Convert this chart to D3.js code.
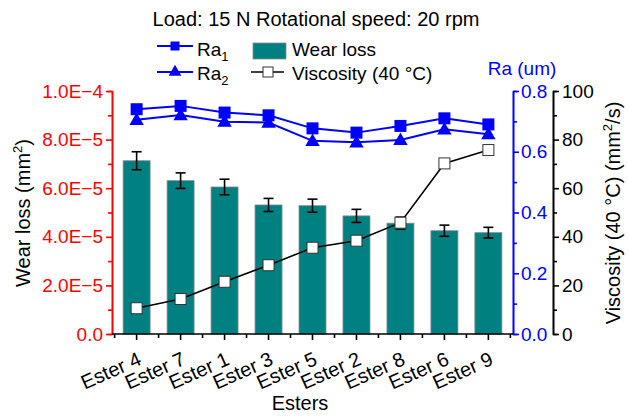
<!DOCTYPE html>
<html>
<head>
<meta charset="utf-8">
<script src="https://cdn.jsdelivr.net/npm/d3@7"></script>
<style>
  body { margin: 0; background: #fff; }
  svg { font-family: "Liberation Sans", Arial, sans-serif; }
</style>
</head>
<body>
<script>
// data
var esters = ["Ester 4", "Ester 7", "Ester 1", "Ester 3", "Ester 5", "Ester 2", "Ester 8", "Ester 6", "Ester 9"];
var wearLoss = [7.13e-5, 6.31e-5, 6.05e-5, 5.31e-5, 5.28e-5, 4.86e-5, 4.56e-5, 4.25e-5, 4.17e-5];
var wearErr = [0.37e-5, 0.32e-5, 0.32e-5, 0.27e-5, 0.27e-5, 0.27e-5, 0.25e-5, 0.23e-5, 0.22e-5];
var viscosity = [10.6, 14.4, 21.5, 28.3, 35.5, 38.4, 45.8, 70.2, 75.7];
var ra1 = [0.740, 0.751, 0.729, 0.720, 0.677, 0.663, 0.685, 0.710, 0.690];
var ra2 = [0.705, 0.721, 0.699, 0.696, 0.636, 0.631, 0.639, 0.674, 0.658];
var wearTicks = [0, 2e-5, 4e-5, 6e-5, 8e-5, 1e-4];
var wearTickLabels = ["0.0", "2.0E\u22125", "4.0E\u22125", "6.0E\u22125", "8.0E\u22125", "1.0E\u22124"];
var raTicks = [0, 0.2, 0.4, 0.6, 0.8];
var viscTicks = [0, 20, 40, 60, 80, 100];

var W = 628, H = 417;
var plot = { left: 112, right: 513, top: 91, bottom: 334 };
var viscAxisX = 553;
var fs = 19;

var svg = d3.select("body").append("svg")
    .attr("width", W)
    .attr("height", H);

var x = d3.scalePoint().domain(esters).range([plot.left, plot.right]).padding(0.56);
var yWear = d3.scaleLinear().domain([0, 1e-4]).range([plot.bottom, plot.top]);
var yRa = d3.scaleLinear().domain([0, 0.8]).range([plot.bottom, plot.top]);
var yVisc = d3.scaleLinear().domain([0, 100]).range([plot.bottom, plot.top]);

// bars
svg.append("g").selectAll("rect")
    .data(wearLoss)
    .enter().append("rect")
    .attr("x", function(d, i) { return x(esters[i]) - 13.5; })
    .attr("y", function(d) { return yWear(d); })
    .attr("width", 27)
    .attr("height", function(d) { return yWear(0) - yWear(d); })
    .style("fill", "#008080")
    .style("stroke", "#8a8a8a")
    .style("stroke-width", 0.8);

// error bars
var err = svg.append("g").selectAll("g")
    .data(wearLoss)
    .enter().append("g")
    .style("stroke", "#000")
    .style("stroke-width", 1.6);
err.append("line")
    .attr("x1", function(d, i) { return x(esters[i]); })
    .attr("x2", function(d, i) { return x(esters[i]); })
    .attr("y1", function(d, i) { return yWear(d - wearErr[i]); })
    .attr("y2", function(d, i) { return yWear(d + wearErr[i]); });
[-1, 1].forEach(function(s) {
    err.append("line")
        .attr("x1", function(d, i) { return x(esters[i]) - 5; })
        .attr("x2", function(d, i) { return x(esters[i]) + 5; })
        .attr("y1", function(d, i) { return yWear(d + s * wearErr[i]); })
        .attr("y2", function(d, i) { return yWear(d + s * wearErr[i]); });
});

// viscosity line
var viscLine = d3.line()
    .x(function(d, i) { return x(esters[i]); })
    .y(function(d) { return yVisc(d); });
svg.append("path")
    .attr("d", viscLine(viscosity))
    .style("fill", "none")
    .style("stroke", "#000")
    .style("stroke-width", 1.6);
svg.append("g").selectAll("rect")
    .data(viscosity)
    .enter().append("rect")
    .attr("x", function(d, i) { return x(esters[i]) - 5.5; })
    .attr("y", function(d) { return yVisc(d) - 5.5; })
    .attr("width", 11)
    .attr("height", 11)
    .style("fill", "#fff")
    .style("stroke", "#333")
    .style("stroke-width", 1);

// Ra lines
var raLine = d3.line()
    .x(function(d, i) { return x(esters[i]); })
    .y(function(d) { return yRa(d); });
[ra1, ra2].forEach(function(series) {
    svg.append("path")
        .attr("d", raLine(series))
        .style("fill", "none")
        .style("stroke", "#0000ff")
        .style("stroke-width", 2);
});
svg.append("g").selectAll("rect")
    .data(ra1)
    .enter().append("rect")
    .attr("x", function(d, i) { return x(esters[i]) - 6; })
    .attr("y", function(d) { return yRa(d) - 6; })
    .attr("width", 12)
    .attr("height", 12)
    .style("fill", "#0000ff");
var tri = d3.symbol().type(d3.symbolTriangle).size(90);
svg.append("g").selectAll("path")
    .data(ra2)
    .enter().append("path")
    .attr("d", tri)
    .attr("transform", function(d, i) { return "translate(" + x(esters[i]) + "," + (yRa(d) + 1) + ")"; })
    .style("fill", "#0000ff");

// axes
function styleAxis(g, color) {
    g.selectAll(".domain").style("stroke", color).style("stroke-width", 1.6);
    g.selectAll(".tick line").style("stroke", color).style("stroke-width", 1.6);
    g.selectAll(".tick text").style("fill", color).style("font-size", fs + "px")
        .style("font-family", "Liberation Sans, Arial, sans-serif");
}

var minorWear = d3.range(1e-5, 1e-4, 2e-5);
svg.append("g")
    .attr("transform", "translate(" + plot.left + ",0)")
    .call(d3.axisLeft(yWear).tickValues(minorWear).tickSize(4).tickFormat(""))
    .call(styleAxis, "#ff0000");
svg.append("g")
    .attr("transform", "translate(" + plot.left + ",0)")
    .call(d3.axisLeft(yWear).tickValues(wearTicks).tickSize(6).tickSizeOuter(0).tickPadding(3)
        .tickFormat(function(d, i) { return wearTickLabels[i]; }))
    .call(styleAxis, "#ff0000");

svg.append("g")
    .attr("transform", "translate(" + plot.right + ",0)")
    .call(d3.axisRight(yRa).tickValues([0.1, 0.3, 0.5, 0.7]).tickSize(4).tickFormat(""))
    .call(styleAxis, "#0000ff");
svg.append("g")
    .attr("transform", "translate(" + plot.right + ",0)")
    .call(d3.axisRight(yRa).tickValues(raTicks).tickSize(6).tickSizeOuter(0).tickPadding(2)
        .tickFormat(d3.format(".1f")))
    .call(styleAxis, "#0000ff");

svg.append("g")
    .attr("transform", "translate(" + viscAxisX + ",0)")
    .call(d3.axisRight(yVisc).tickValues([10, 30, 50, 70, 90]).tickSize(4).tickFormat(""))
    .call(styleAxis, "#000");
svg.append("g")
    .attr("transform", "translate(" + viscAxisX + ",0)")
    .call(d3.axisRight(yVisc).tickValues(viscTicks).tickSize(6).tickSizeOuter(0).tickPadding(3))
    .call(styleAxis, "#000");

// x axis: major ticks on categories, minor between them
var step = x.step();
var minorX = d3.range(esters.length + 1).map(function(i) { return x(esters[0]) - step / 2 + i * step; });
var xg = svg.append("g").attr("transform", "translate(0," + plot.bottom + ")");
xg.append("line")
    .attr("x1", plot.left).attr("x2", plot.right)
    .style("stroke", "#000").style("stroke-width", 1.6);
xg.selectAll(".minor")
    .data(minorX)
    .enter().append("line")
    .attr("x1", function(d) { return d; }).attr("x2", function(d) { return d; })
    .attr("y1", 0).attr("y2", 4)
    .style("stroke", "#000").style("stroke-width", 1.6);
xg.selectAll(".major")
    .data(esters)
    .enter().append("line")
    .attr("x1", function(d) { return x(d); }).attr("x2", function(d) { return x(d); })
    .attr("y1", 0).attr("y2", 6)
    .style("stroke", "#000").style("stroke-width", 1.6);
xg.selectAll("text")
    .data(esters)
    .enter().append("text")
    .attr("transform", function(d) { return "translate(" + (x(d) + 6) + ",30) rotate(-24)"; })
    .style("text-anchor", "end")
    .style("font-size", "20px")
    .text(function(d) { return d; });

// axis titles
svg.append("text")
    .attr("x", 300).attr("y", 410)
    .style("text-anchor", "middle")
    .style("font-size", "20px")
    .text("Esters");

var wt = svg.append("text")
    .attr("transform", "translate(30," + 213 + ") rotate(-90)")
    .style("text-anchor", "middle")
    .style("font-size", "20px");
wt.append("tspan").text("Wear loss (mm");
wt.append("tspan").attr("dy", -8).style("font-size", "13px").text("2");
wt.append("tspan").attr("dy", 8).text(")");

var vt = svg.append("text")
    .attr("transform", "translate(620," + 213 + ") rotate(-90)")
    .style("text-anchor", "middle")
    .style("font-size", "20px");
vt.append("tspan").text("Viscosity (40 \u00B0C) (mm");
vt.append("tspan").attr("dy", -8).style("font-size", "13px").text("2");
vt.append("tspan").attr("dy", 8).text("/s)");

svg.append("text")
    .attr("x", 522).attr("y", 75)
    .style("text-anchor", "middle")
    .style("font-size", fs + "px")
    .style("fill", "#0000ff")
    .text("Ra (um)");

// title
svg.append("text")
    .attr("x", 316).attr("y", 26)
    .style("text-anchor", "middle")
    .style("font-size", "20px")
    .text("Load: 15 N Rotational speed: 20 rpm");

// legend
var legend = svg.append("g");
legend.append("line").attr("x1", 157).attr("x2", 193).attr("y1", 46).attr("y2", 46)
    .style("stroke", "#0000ff").style("stroke-width", 2);
legend.append("rect").attr("x", 170.5).attr("y", 41.5).attr("width", 9).attr("height", 9)
    .style("fill", "#0000ff");
legend.append("line").attr("x1", 157).attr("x2", 193).attr("y1", 72).attr("y2", 72)
    .style("stroke", "#0000ff").style("stroke-width", 2);
legend.append("path").attr("d", d3.symbol().type(d3.symbolTriangle).size(70))
    .attr("transform", "translate(175,72)")
    .style("fill", "#0000ff");
[["1", 56], ["2", 80]].forEach(function(r) {
    var t = legend.append("text").attr("x", 197).attr("y", r[1]).style("font-size", fs + "px");
    t.append("tspan").text("Ra");
    t.append("tspan").attr("dy", 5).style("font-size", "13px").text(r[0]);
});
legend.append("rect").attr("x", 253).attr("y", 43).attr("width", 33).attr("height", 16)
    .style("fill", "#008080").style("stroke", "#8a8a8a").style("stroke-width", 0.8);
legend.append("text").attr("x", 292).attr("y", 56).style("font-size", fs + "px").text("Wear loss");
legend.append("line").attr("x1", 251).attr("x2", 284).attr("y1", 72).attr("y2", 72)
    .style("stroke", "#000").style("stroke-width", 1.6);
legend.append("rect").attr("x", 263).attr("y", 67).attr("width", 10).attr("height", 10)
    .style("fill", "#fff").style("stroke", "#333");
legend.append("text").attr("x", 292).attr("y", 80).style("font-size", fs + "px").text("Viscosity (40 \u00B0C)");
</script>
</body>
</html>
